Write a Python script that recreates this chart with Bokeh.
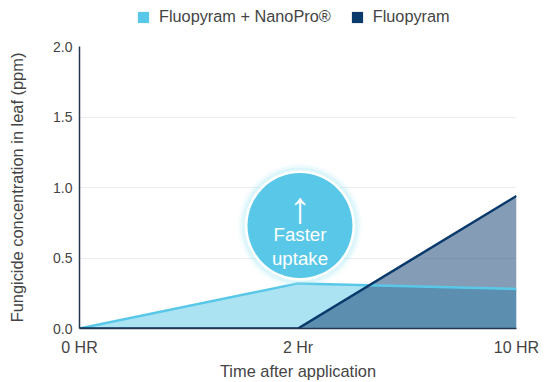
from bokeh.plotting import figure
from bokeh.embed import file_html
from bokeh.layouts import column
from bokeh.resources import INLINE
from bokeh.core.properties import value
from bokeh.models import Legend, LegendItem, FixedTicker, Range1d

categories = ["0 HR", "2 Hr", "10 HR"]
positions = [0, 1, 2]
nanopro = [0.0, 0.32, 0.28]
fluopyram = [0.0, 0.0, 0.94]
y_ticks = [0.0, 0.5, 1.0, 1.5, 2.0]
callout_x = [1.009]
callout_y = [0.73]
callout_labels = ["Faster", "uptake"]
callout_label_y = [0.667, 0.50]
arrow_y = [0.858]

FONT = "Liberation Sans"
LIGHT = "#59c8e8"
DARK = "#0a3a6b"
TXT = "#444444"

p = figure(width=541, height=346, output_backend="svg", toolbar_location=None,
           x_range=Range1d(0, 2), y_range=Range1d(0, 2),
           min_border_left=79, min_border_right=25, min_border_top=10, min_border_bottom=54)
p.outline_line_color = None
p.background_fill_color = "white"
p.xgrid.visible = False
p.ygrid.grid_line_color = "#eeeeee"
p.ygrid.grid_line_width = 1

p.xaxis.ticker = FixedTicker(ticks=positions)
p.xaxis.major_label_overrides = dict(zip(positions, categories))
p.xaxis.axis_label = "Time after application"
p.yaxis.ticker = FixedTicker(ticks=y_ticks)
p.yaxis.major_label_overrides = {t: f"{t:.1f}" for t in y_ticks}
p.yaxis.axis_label = "Fungicide concentration in leaf (ppm)"
for ax in (p.xaxis[0], p.yaxis[0]):
    ax.axis_line_color = "#22364d"
    ax.axis_line_width = 1.5
    ax.major_tick_line_color = None
    ax.minor_tick_line_color = None
    ax.major_tick_out = 0
    ax.major_tick_in = 0
    ax.major_label_text_font = FONT
    ax.major_label_text_color = TXT
    ax.axis_label_text_font = FONT
    ax.axis_label_text_font_size = "16.4px"
    ax.axis_label_text_font_style = "normal"
    ax.axis_label_text_color = TXT
p.xaxis.major_label_text_font_size = "16px"
p.yaxis.major_label_text_font_size = "14px"
p.xaxis.major_label_standoff = 10
p.xaxis.axis_label_standoff = 3
p.yaxis.major_label_standoff = 7
p.yaxis.axis_label_standoff = 24

zeros = [0] * len(positions)
p.varea(positions, zeros, nanopro, fill_color=LIGHT, fill_alpha=0.5)
p.varea(positions, zeros, fluopyram, fill_color=DARK, fill_alpha=0.5)
p.line(positions, nanopro, line_color=LIGHT, line_width=2.5)
p.line(positions, fluopyram, line_color=DARK, line_width=2.5)

# glow, ring and disc of the callout
for s, al in ((124, 0.08), (120, 0.12), (116, 0.2)):
    p.scatter(callout_x, callout_y, size=s, marker="circle", fill_color="#9fe4f5", fill_alpha=al, line_color=None)
p.scatter(callout_x, callout_y, size=110, marker="circle", fill_color="white", line_color=None)
p.scatter(callout_x, callout_y, size=105, marker="circle", fill_color=LIGHT, line_color=None)
p.text(callout_x, arrow_y, text=["↑"], text_font=value(FONT), text_font_size="44px",
       text_color="white", text_align="center", text_baseline="middle")
p.text(callout_x * 2, callout_label_y, text=callout_labels, text_font=value(FONT), text_font_size="18.7px",
       text_color="white", text_align="center", text_baseline="middle")

# legend strip above the plot
top = figure(width=541, height=36, output_backend="svg", toolbar_location=None,
             x_range=Range1d(0, 1), y_range=Range1d(0, 1), min_border=0, outline_line_color=None)
top.axis.visible = False
top.grid.visible = False
s1 = top.quad(left=[-5], right=[-4], bottom=[-5], top=[-4], fill_color=LIGHT, line_color=None)
s2 = top.quad(left=[-5], right=[-4], bottom=[-5], top=[-4], fill_color=DARK, line_color=None)
legend = Legend(items=[LegendItem(label="Fluopyram + NanoPro®", renderers=[s1]),
                       LegendItem(label="Fluopyram", renderers=[s2])],
                orientation="horizontal", location=(57, 10), border_line_color=None,
                background_fill_alpha=0, label_text_font=FONT, label_text_font_size="16.3px",
                label_text_color=TXT, glyph_width=14, glyph_height=14, spacing=19,
                label_standoff=9, margin=0, padding=0)
top.add_layout(legend, "center")

open("out.html", "w").write(file_html(column(top, p, spacing=0), INLINE))
